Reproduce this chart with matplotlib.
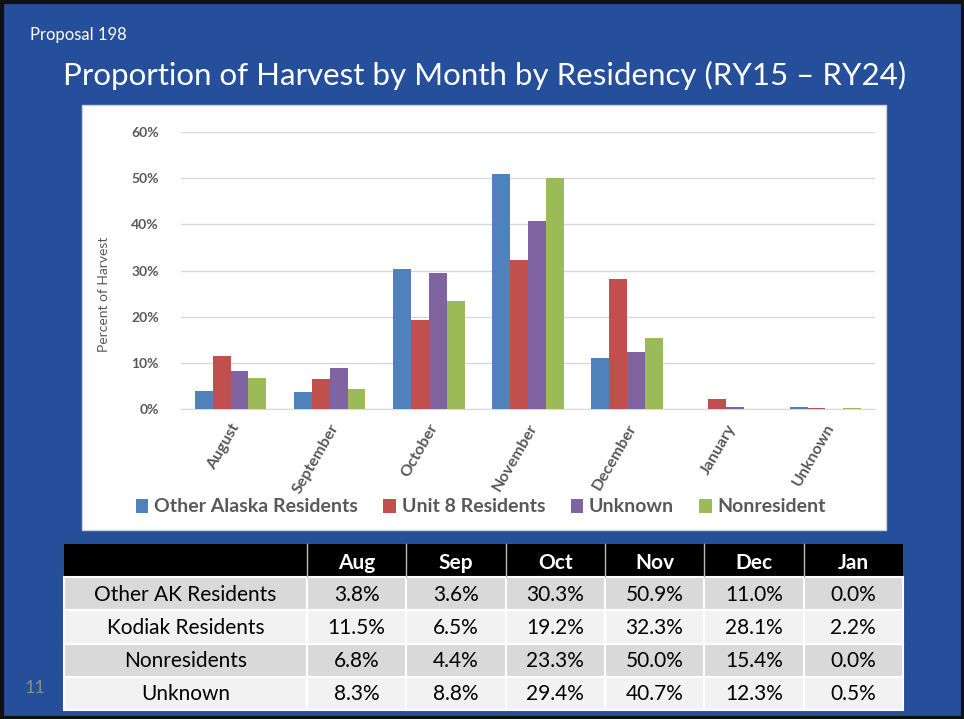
import matplotlib.pyplot as plt
from matplotlib.patches import Rectangle
from matplotlib.ticker import PercentFormatter
import numpy as np

plt.rcParams['font.family'] = ['Lato', 'DejaVu Sans']

# chart data (percent of harvest)
months = ['August', 'September', 'October', 'November', 'December', 'January', 'Unknown']
series = ['Other Alaska Residents', 'Unit 8 Residents', 'Unknown', 'Nonresident']
other_ak = [3.8, 3.6, 30.3, 50.9, 11.0, 0.0, 0.4]
unit8 = [11.5, 6.5, 19.2, 32.3, 28.1, 2.2, 0.3]
unknown = [8.3, 8.8, 29.4, 40.7, 12.3, 0.5, 0.0]
nonres = [6.8, 4.4, 23.3, 50.0, 15.4, 0.0, 0.2]
colors = ['#4F81BD', '#C0504D', '#8064A2', '#9BBB59']

# table data
tab_cols = ['Aug', 'Sep', 'Oct', 'Nov', 'Dec', 'Jan']
tab_rows = ['Other AK Residents', 'Kodiak Residents', 'Nonresidents', 'Unknown']
tab_vals = [
    ['3.8%', '3.6%', '30.3%', '50.9%', '11.0%', '0.0%'],
    ['11.5%', '6.5%', '19.2%', '32.3%', '28.1%', '2.2%'],
    ['6.8%', '4.4%', '23.3%', '50.0%', '15.4%', '0.0%'],
    ['8.3%', '8.8%', '29.4%', '40.7%', '12.3%', '0.5%'],
]

W, H = 964, 719
fig = plt.figure(figsize=(W / 100, H / 100), dpi=100)
fig.patch.set_facecolor('#254E9B')

# background layer in pixel coords
bg = fig.add_axes([0, 0, 1, 1])
bg.set_xlim(0, W)
bg.set_ylim(H, 0)
bg.axis('off')
bg.add_patch(Rectangle((1.5, 1.5), W - 3, H - 3, fill=False, ec='#111111', lw=3))
bg.add_patch(Rectangle((82, 105), 804, 425, fc='white', ec='#D0D0D0', lw=1))
bg.text(30, 35, 'Proposal 198', color='white', fontsize=12, va='center')
bg.text(485, 75, 'Proportion of Harvest by Month by Residency (RY15 \u2013 RY24)',
        color='white', fontsize=22.5, ha='center', va='center')
bg.text(35, 688, '11', color='#8C8C8C', fontsize=13, ha='center', va='center')

# table
x0, col0_w, col_w = 64, 243, 99.3
y0, row_h = 544, 33.2
bg.add_patch(Rectangle((x0, y0), col0_w + col_w * len(tab_cols), row_h, fc='black', ec='none'))
for j, c in enumerate(tab_cols):
    cx = x0 + col0_w + col_w * j
    bg.plot([cx, cx], [y0, y0 + row_h], color='#BBBBBB', lw=1)
    bg.text(cx + col_w / 2, y0 + row_h / 2 + 2, c, color='white', fontsize=15,
            fontweight='bold', ha='center', va='center')
for i, name in enumerate(tab_rows):
    ry = y0 + row_h * (i + 1)
    fc = '#D9D9D9' if i % 2 == 0 else '#F2F2F2'
    bg.add_patch(Rectangle((x0, ry), col0_w, row_h, fc=fc, ec='white', lw=1.5))
    bg.text(x0 + col0_w / 2, ry + row_h / 2 + 1, name, fontsize=15, ha='center', va='center')
    for j, v in enumerate(tab_vals[i]):
        cx = x0 + col0_w + col_w * j
        bg.add_patch(Rectangle((cx, ry), col_w, row_h, fc=fc, ec='white', lw=1.5))
        bg.text(cx + col_w / 2, ry + row_h / 2 + 1, v, fontsize=15, ha='center', va='center')

# bar chart
ax = fig.add_axes([181 / W, 1 - 409 / H, 694 / W, 277 / H])
ax.set_facecolor('white')
x = np.arange(len(months))
bw = 0.18
for k, (vals, col, lab) in enumerate(zip([other_ak, unit8, unknown, nonres], colors, series)):
    ax.bar(x + (k - 1.5) * bw, vals, bw, color=col, label=lab, zorder=3)

ax.set_xlim(-0.5, len(months) - 0.5)
ax.set_ylim(0, 60)
ax.set_yticks(np.arange(0, 61, 10))
ax.yaxis.set_major_formatter(PercentFormatter(decimals=0))
ax.grid(axis='y', color='#D9D9D9', lw=1, zorder=0)
for s in ['top', 'right', 'left']:
    ax.spines[s].set_visible(False)
ax.spines['bottom'].set_color('#D9D9D9')
ax.tick_params(axis='both', length=0, colors='#595959')
ax.tick_params(axis='y', pad=16)
ax.tick_params(axis='x', pad=9)
ax.set_xticks(x)
ax.set_xticklabels(months, rotation=60, ha='right', rotation_mode='anchor',
                   fontsize=11.5, fontweight='bold', color='#595959')
for t in ax.get_yticklabels():
    t.set_fontsize(10)
    t.set_fontweight('bold')
ax.set_ylabel('Percent of Harvest', fontsize=10, color='#595959')
ax.yaxis.set_label_coords(-0.103, 0.415)

fig.legend(loc='center', bbox_to_anchor=(481 / W, 1 - 507 / H), ncol=4, frameon=False,
           handlelength=0.65, handleheight=0.7, handletextpad=0.3,
           columnspacing=1.3, labelcolor='#595959',
           prop={'weight': 'bold', 'size': 14})

fig.savefig('out.png', dpi=100, facecolor=fig.get_facecolor())
